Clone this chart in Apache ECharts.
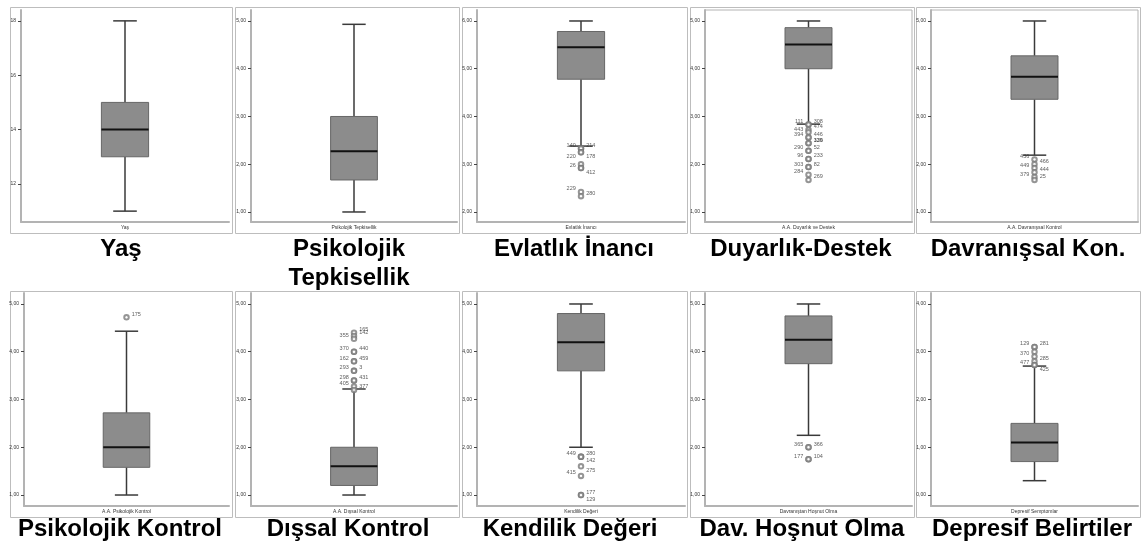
<!DOCTYPE html>
<html>
<head>
<meta charset="utf-8">
<script src="https://cdn.jsdelivr.net/npm/echarts@6/dist/echarts.min.js"></script>
<style>
html,body{margin:0;padding:0;background:#fff;}
#chart{width:1141px;height:545px;}
</style>
</head>
<body>
<div id="chart"></div>
<script>
// ---------------- DATA ----------------
const categories = ['Yaş', 'Psikolojik Tepkisellik', 'Evlatlık İnancı', 'A.A. Duyarlık ve Destek', 'A.A. Davranışsal Kontrol',
  'A.A. Psikolojik Kontrol', 'A.A. Dışsal Kontrol', 'Kendilik Değeri', 'Davranıştan Hoşnut Olma', 'Depresif Semptomlar'];
const captions = ['Yaş', 'Psikolojik\nTepkisellik', 'Evlatlık İnancı', 'Duyarlık-Destek', 'Davranışsal Kon.',
  'Psikolojik Kontrol', 'Dışsal Kontrol', 'Kendilik Değeri', 'Dav. Hoşnut Olma', 'Depresif Belirtiler'];

// box statistics: [min whisker, Q1, median, Q3, max whisker]
const yasBox  = [11, 13, 14, 15, 18];
const tepkBox = [1.00, 1.67, 2.27, 3.00, 4.93];
const evlBox  = [3.38, 4.78, 5.45, 5.78, 6.00];
const duyBox  = [2.84, 4.00, 4.51, 4.86, 5.00];
const davBox  = [2.19, 3.36, 3.83, 4.27, 5.00];
const pskBox  = [1.00, 1.58, 2.00, 2.72, 4.43];
const disBox  = [1.00, 1.20, 1.60, 2.00, 3.22];
const kenBox  = [2.00, 3.60, 4.20, 4.80, 5.00];
const hosBox  = [2.25, 3.75, 4.25, 4.75, 5.00];
const depBox  = [0.30, 0.70, 1.10, 1.50, 2.70];

// y-axis tick values
const yasTicks    = [12, 14, 16, 18];
const likertTicks = [1, 2, 3, 4, 5];
const evlTicks    = [2, 3, 4, 5, 6];
const depTicks    = [0, 1, 2, 3, 4];

// outliers (values) and their case numbers
const tepkOut = [];  const tepkIds = [];
const yasOut  = [];  const yasIds  = [];
const evlOut = [3.33, 3.33, 3.25, 3.25, 3.00, 2.92, 2.92, 2.42, 2.33];
const evlIds = ['140', '214', '220', '178', '', '26', '412', '229', '280'];
const duyOut = [2.83, 2.83, 2.72, 2.67, 2.56, 2.56, 2.44, 2.44, 2.28, 2.28, 2.11, 2.11, 1.94, 1.94, 1.78, 1.67];
const duyIds = ['111', '308', '474', '443', '394', '446', '129', '336', '290', '52', '96', '233', '303', '82', '284', '269'];
const davOut = [2.10, 2.00, 1.92, 1.83, 1.73, 1.67];
const davIds = ['436', '466', '449', '444', '379', '25'];
const pskOut = [4.72];
const pskIds = ['175'];
const disOut = [4.40, 4.33, 4.27, 4.00, 4.00, 3.80, 3.80, 3.60, 3.60, 3.40, 3.40, 3.27, 3.20];
const disIds = ['165', '142', '355', '370', '440', '162', '459', '293', '3', '298', '431', '405', '377'];
const kenOut = [1.80, 1.80, 1.80, 1.60, 1.40, 1.00, 1.00];
const kenIds = ['449', '280', '142', '275', '415', '177', '129'];
const hosOut = [2.00, 2.00, 1.75, 1.75];
const hosIds = ['365', '366', '177', '104'];
const depOut = [3.10, 3.10, 3.00, 2.90, 2.80, 2.72, 2.72];
const depIds = ['129', '281', '', '370', '285', '477', '425'];

// ---------------- STYLE / LAYOUT ----------------
// label placement of outlier ids: L/R = left/right & up, l/r = left/right & down, '-' = none
const labelSides = ['', '', 'LRlr-LrLR', 'LRRLLRRRLRLRLRLR', 'LRLRLR', 'R', 'RRLLRLRLRLRLR', 'LRrrLRr', 'LRLR', 'LR-LRLr'];

const boxes    = [yasBox, tepkBox, evlBox, duyBox, davBox, pskBox, disBox, kenBox, hosBox, depBox];
const outVals  = [yasOut, tepkOut, evlOut, duyOut, davOut, pskOut, disOut, kenOut, hosOut, depOut];
const outIds   = [yasIds, tepkIds, evlIds, duyIds, davIds, pskIds, disIds, kenIds, hosIds, depIds];
const ticks    = [yasTicks, likertTicks, evlTicks, likertTicks, likertTicks, likertTicks, likertTicks, likertTicks, likertTicks, depTicks];
const axisMin  = [10.60, 0.79, 1.79, 0.79, 0.79, 0.77, 0.77, 0.77, 0.77, -0.23];
const axisMax  = [18.40, 5.23, 6.23, 5.23, 5.23, 5.23, 5.23, 5.23, 5.23, 4.23];
const gridLeft  = [21, 251, 477, 705, 931, 24, 251, 477, 705, 931];
const gridRight = [229, 457, 685, 912, 1138, 229, 457, 685, 912, 1138];
const rowTop = [10, 293], rowBottom = [222, 506];
const frameX = [[10, 232], [235, 459], [462, 687], [690, 914], [916, 1140]];
const frameY = [[7, 233], [291, 517]];
const captionX = [121, 349, 574, 801, 1028, 120, 348, 570, 802, 1032];
const captionY = [235, 515];
const bordered = [false, false, false, true, true, false, false, false, false, false];

const BOX_FRAC = 0.227;
const BOX_FILL = '#8c8c8c', BOX_EDGE = '#666666', WHISKER = '#3a3a3a', MEDIAN = '#111111';
const AXIS_COLOR = '#b3b3b3';
const W = 1141;

function fmt(i) {
  return function (v) { return i === 0 ? String(v) : v.toFixed(2).replace('.', ','); };
}

function renderBox(params, api) {
  const cat = api.value(0);
  const v = [api.value(1), api.value(2), api.value(3), api.value(4), api.value(5)];
  const band = api.size([1, 0])[0];
  const bw = band * BOX_FRAC;
  const x = api.coord([cat, v[2]])[0];
  const y = v.map(function (val) { return api.coord([cat, val])[1]; });
  function line(x1, y1, x2, y2, stroke, lw) {
    return { type: 'line', shape: { x1: x1, y1: y1, x2: x2, y2: y2 }, style: { stroke: stroke, lineWidth: lw } };
  }
  const cap = bw / 4;
  return {
    type: 'group',
    children: [
      line(x, y[0], x, y[1], WHISKER, 1.5),
      line(x, y[3], x, y[4], WHISKER, 1.5),
      line(x - cap, y[0], x + cap, y[0], WHISKER, 1.5),
      line(x - cap, y[4], x + cap, y[4], WHISKER, 1.5),
      { type: 'rect', shape: { x: x - bw / 2, y: y[3], width: bw, height: y[1] - y[3] },
        style: { fill: BOX_FILL, stroke: BOX_EDGE, lineWidth: 1 } },
      line(x - bw / 2, y[2], x + bw / 2, y[2], MEDIAN, 2)
    ]
  };
}

const grid = [], xAxis = [], yAxis = [], series = [], graphic = [];
for (let i = 0; i < 10; i++) {
  const row = i < 5 ? 0 : 1;
  grid.push({
    left: gridLeft[i], right: W - gridRight[i], top: rowTop[row], height: rowBottom[row] - rowTop[row],
    show: bordered[i], borderColor: AXIS_COLOR, borderWidth: 1, backgroundColor: 'transparent'
  });
  xAxis.push({
    type: 'category', gridIndex: i, data: [categories[i]],
    axisLine: { onZero: false, lineStyle: { color: AXIS_COLOR, width: 2 } },
    axisTick: { alignWithLabel: true, length: 3, lineStyle: { color: '#444' } },
    axisLabel: { fontSize: 5, color: '#333', margin: 3, fontFamily: 'Liberation Sans' },
    splitLine: { show: false }
  });
  yAxis.push({
    type: 'value', gridIndex: i, min: axisMin[i], max: axisMax[i],
    axisLine: { show: true, onZero: false, lineStyle: { color: AXIS_COLOR, width: 2 } },
    axisTick: { show: true, length: 3, customValues: ticks[i], lineStyle: { color: '#444' } },
    axisLabel: { fontSize: 5, color: '#333', margin: 5, customValues: ticks[i], formatter: fmt(i), fontFamily: 'Liberation Sans' },
    splitLine: { show: false }
  });
  series.push({
    type: 'custom', xAxisIndex: i, yAxisIndex: i,
    renderItem: renderBox,
    encode: { x: 0, y: [1, 2, 3, 4, 5] },
    data: [[0].concat(boxes[i])],
    z: 2, silent: true
  });
  const sides = labelSides[i];
  const pts = outVals[i].map(function (v, k) {
    const s = sides.charAt(k);
    const id = outIds[i][k];
    return {
      value: [0, v],
      label: {
        show: s !== '-' && id !== '',
        formatter: id,
        position: (s === 'L' || s === 'l') ? 'left' : 'right',
        offset: [0, (s === 'l' || s === 'r') ? 4 : -3]
      }
    };
  });
  if (pts.length) {
    series.push({
      type: 'scatter', xAxisIndex: i, yAxisIndex: i,
      symbol: 'emptyCircle', symbolSize: 4.5,
      itemStyle: { color: '#7a7a7a', borderWidth: 0.8 },
      label: { fontSize: 5.5, color: '#333', distance: 2, fontFamily: 'Liberation Sans' },
      data: pts, z: 4, silent: true
    });
  }
  // panel frame
  const fx = frameX[i % 5], fy = frameY[row];
  graphic.push({
    type: 'rect', silent: true, z: -1,
    shape: { x: fx[0] + 0.5, y: fy[0] + 0.5, width: fx[1] - fx[0], height: fy[1] - fy[0] },
    style: { fill: 'none', stroke: '#bdbdbd', lineWidth: 1 }
  });
  // caption
  graphic.push({
    type: 'text', silent: true, x: captionX[i], y: captionY[row],
    style: {
      text: captions[i], align: 'center', verticalAlign: 'top', lineHeight: 29,
      font: 'bold 24px "Liberation Sans", Arial, sans-serif', fill: '#000'
    }
  });
}

const chart = echarts.init(document.getElementById('chart'), null, { renderer: 'canvas' });
chart.setOption({
  animation: false,
  backgroundColor: '#fff',
  grid: grid, xAxis: xAxis, yAxis: yAxis, series: series, graphic: graphic
});
</script>
</body>
</html>
